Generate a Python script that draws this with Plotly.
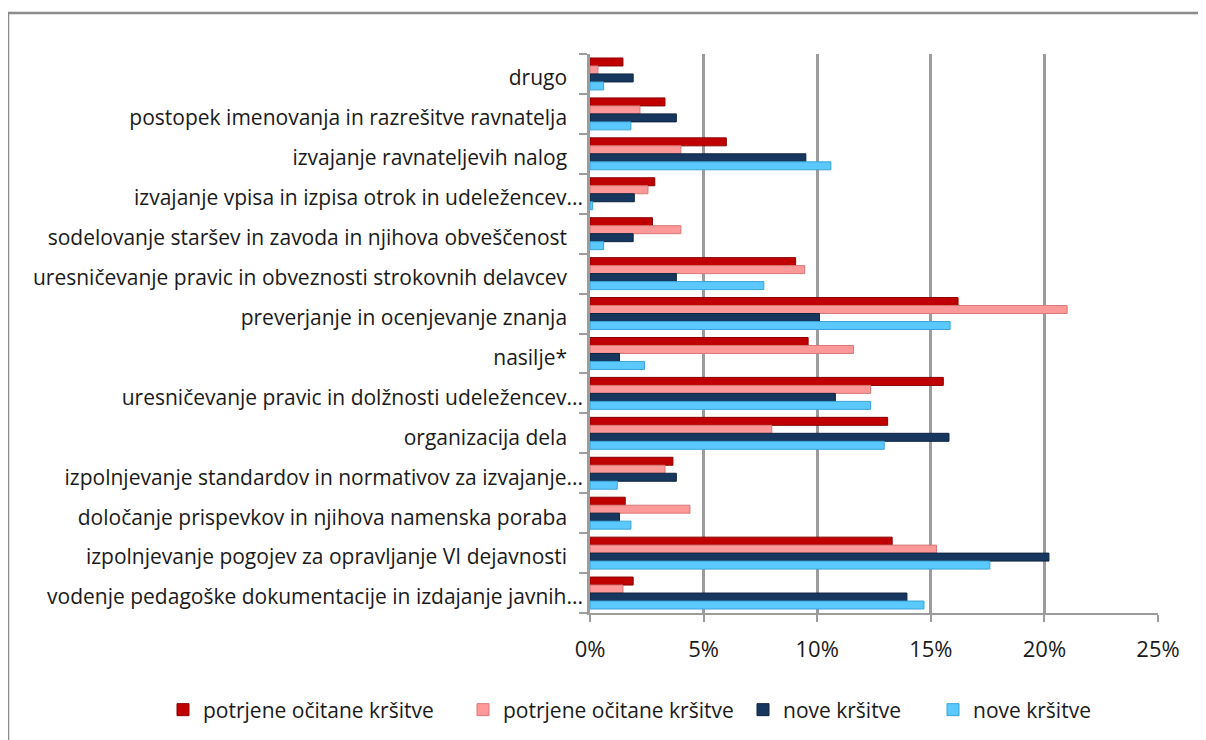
import plotly.graph_objects as go

categories = [
    "drugo",
    "postopek imenovanja in razrešitve ravnatelja",
    "izvajanje ravnateljevih nalog",
    "izvajanje vpisa in izpisa otrok in udeležencev...",
    "sodelovanje staršev in zavoda in njihova obveščenost",
    "uresničevanje pravic in obveznosti strokovnih delavcev",
    "preverjanje in ocenjevanje znanja",
    "nasilje*",
    "uresničevanje pravic in dolžnosti udeležencev...",
    "organizacija dela",
    "izpolnjevanje standardov in normativov za izvajanje...",
    "določanje prispevkov in njihova namenska poraba",
    "izpolnjevanje pogojev za opravljanje VI dejavnosti",
    "vodenje pedagoške dokumentacije in izdajanje javnih...",
]

series_names = ["potrjene očitane kršitve", "potrjene očitane kršitve", "nove kršitve", "nove kršitve"]

confirmed_a = [1.45, 3.3, 6.0, 2.85, 2.75, 9.05, 16.2, 9.6, 15.55, 13.1, 3.65, 1.55, 13.3, 1.9]
confirmed_b = [0.35, 2.2, 4.0, 2.55, 4.0, 9.45, 21.0, 11.6, 12.35, 8.0, 3.3, 4.4, 15.25, 1.45]
new_a = [1.9, 3.8, 9.5, 1.95, 1.9, 3.8, 10.1, 1.3, 10.8, 15.8, 3.8, 1.3, 20.2, 13.95]
new_b = [0.6, 1.8, 10.6, 0.12, 0.6, 7.65, 15.85, 2.4, 12.35, 12.95, 1.2, 1.8, 17.6, 14.7]

x_ticks = [0, 5, 10, 15, 20, 25]
x_tick_labels = ["0%", "5%", "10%", "15%", "20%", "25%"]

colors = ["#C00000", "#FF9999", "#17375E", "#5BC8FF"]
edge_colors = ["#8B0000", "#D97777", "#0E2440", "#3AA4D8"]

label_text = [c if c.endswith("...") else c + "\u2002\u00a0" for c in categories]

# page body has an 8px margin: work in screen pixels, convert to figure pixels
OFF = 8
W, H = 1206 - OFF, 740 - OFF
L, R, T, B = 590 - OFF, 1158 - OFF, 54 - OFF, 613 - OFF
pw, ph = R - L, B - T


def px_x(p):
    return (p - OFF - L) / pw


def px_y(p):
    return (B - (p - OFF)) / ph


legend_ids = ["legend", "legend2", "legend3", "legend4"]
legend_square_x = [172, 472, 752, 942]

FONT = "'Open Sans', 'DejaVu Sans', sans-serif"

fig = go.Figure()
for name, vals, col, ecol, lid in zip(series_names, [confirmed_a, confirmed_b, new_a, new_b],
                                      colors, edge_colors, legend_ids):
    fig.add_trace(go.Bar(
        y=categories, x=vals, name=name, orientation="h", legend=lid,
        marker=dict(color=col, line=dict(color=ecol, width=1)),
    ))

legend_layout = {}
for lid, sx in zip(legend_ids, legend_square_x):
    legend_layout[lid] = dict(
        orientation="h", x=px_x(sx - 9), xanchor="left", y=px_y(710), yanchor="middle",
        font=dict(size=21, color="#1A1A1A"), bgcolor="rgba(0,0,0,0)", borderwidth=0,
        itemwidth=30,
    )

fig.update_layout(
    width=W, height=H,
    margin=dict(l=L, r=W - R, t=T, b=H - B, autoexpand=False),
    paper_bgcolor="white", plot_bgcolor="white",
    barmode="group", bargap=0.2, bargroupgap=0.0,
    font=dict(family=FONT, color="#1A1A1A"),
    showlegend=True,
    shapes=[dict(type="rect", xref="paper", yref="paper",
                 x0=px_x(8), x1=px_x(1260), y0=px_y(13), y1=px_y(800),
                 line=dict(color="#8C8C8C", width=2.5), fillcolor="rgba(0,0,0,0)", layer="below")],
    **legend_layout,
)

fig.update_xaxes(
    range=[0, 25], tickmode="array", tickvals=x_ticks, ticktext=x_tick_labels,
    showgrid=True, gridcolor="#9C9C9C", gridwidth=2.5,
    showline=True, linecolor="#9C9C9C", linewidth=2,
    ticks="outside", ticklen=7, tickcolor="#9C9C9C", tickwidth=2, ticklabelstandoff=9,
    tickfont=dict(size=22, color="#1A1A1A"), zeroline=False, automargin=False,
)
fig.update_yaxes(
    categoryorder="array", categoryarray=categories, autorange="reversed",
    tickmode="array", tickvals=categories, ticktext=label_text,
    showline=True, linecolor="#9C9C9C", linewidth=2.5,
    ticks="outside", tickson="boundaries", ticklen=8, tickcolor="#9C9C9C", tickwidth=2,
    ticklabelshift=-4,
    tickfont=dict(size=21, color="#1A1A1A"), showgrid=False, automargin=False,
)

fig.write_html("out.html")
